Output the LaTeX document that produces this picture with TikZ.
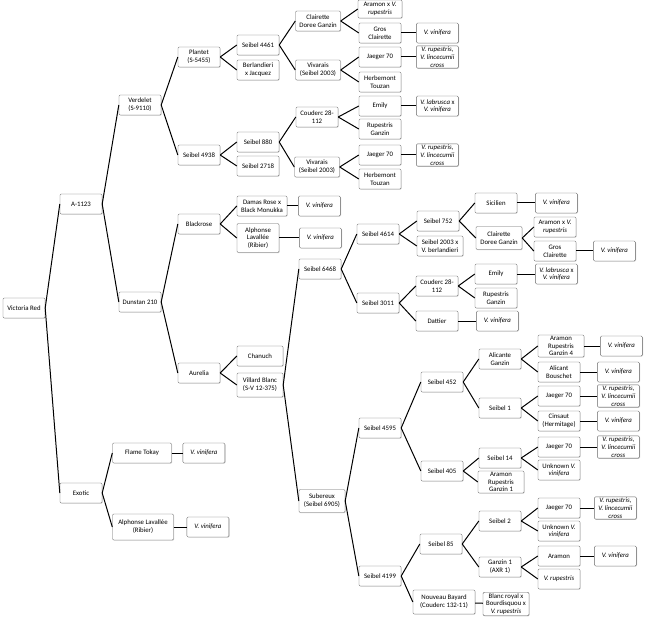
\documentclass[tikz,border=0pt]{standalone}
\usepackage{fontspec}
\newfontfamily\grapefont{Carlito}
\usepackage{tikz}
\usetikzlibrary{positioning,shadows}
\usetikzlibrary{bayesnet}
\tikzset{
  vine/.style={draw=black!60, fill=white, rounded corners=1.2pt, minimum width=42pt,
    minimum height=20pt, inner sep=1pt, align=center,
    font=\grapefont\fontsize{6.8}{7.8}\selectfont,
    drop shadow={shadow xshift=0.6pt, shadow yshift=-0.6pt, opacity=0.4}},
  wild/.style={vine, font=\grapefont\itshape\fontsize{6.8}{7.8}\selectfont},
  link/.style={-, line width=1pt},
}

\begin{document}
\begin{tikzpicture}[x=1pt,y=-1pt] %
		\useasboundingbox (0,0) rectangle (650,620) ;
		% Root and first generations
		\node[vine] (VicRed) at (24,308) {Victoria Red} ;
		\node[vine] (A1123) at (81,204) {A-1123} ;
		\node[vine] (Exotic) at (81,493) {Exotic} ;
		\node[vine] (Verdelet) at (140,105) {Verdelet\\(S-9110)} ;
		\node[vine] (Dunstan) at (140,302) {Dunstan 210} ;
		% Exotic
		\node[vine, minimum width=59pt] (FlameTokay) at (142,453) {Flame Tokay} ;
		\node[wild, right=11pt of FlameTokay] (FlameVin) {V. vinifera} ;
		\node[vine, minimum width=61pt, minimum height=26pt] (RibierEx) at (143,527) {Alphonse Lavallée\\(Ribier)} ;
		\node[wild, right=13pt of RibierEx] (RibierExVin) {V. vinifera} ;
		% Verdelet
		\node[vine] (Plantet) at (199,57) {Plantet\\(S-5455)} ;
		\node[vine] (S4938) at (199,155) {Seibel 4938} ;
		\node[vine] (S4461) at (258,45) {Seibel 4461} ;
		\node[vine] (BerlJac) at (258,70) {Berlandieri\\x Jacquez} ;
		\node[vine] (S880) at (258,142) {Seibel 880} ;
		\node[vine] (S2718) at (258,166) {Seibel 2718} ;
		\node[vine, minimum width=45pt] (ClairA) at (318,21) {Clairette\\Doree Ganzin} ;
		\node[vine, minimum width=45pt] (VivA) at (318,70) {Vivarais\\(Seibel 2003)} ;
		\node[vine] (CoudA) at (317,117) {Couderc 28-\\112} ;
		\node[vine, minimum width=45pt] (VivB) at (317,167) {Vivarais\\(Seibel 2003)} ;
		\node[vine, minimum width=44pt, minimum height=18pt] (AraRupA) at (380,9) {Aramon x \textit{V.}\\\textit{rupestris}} ;
		\node[vine] (GrosA) at (380,33) {Gros\\Clairette} ;
		\node[vine] (JaegerA) at (380,57) {Jaeger 70} ;
		\node[vine] (HerbA) at (380,82) {Herbemont\\Touzan} ;
		\node[vine] (EmilyA) at (380,106) {Emily} ;
		\node[vine] (RupGanA) at (380,129) {Rupestris\\Ganzin} ;
		\node[vine] (JaegerB) at (380,155) {Jaeger 70} ;
		\node[vine] (HerbB) at (380,179) {Herbemont\\Touzan} ;
		\node[wild, right=15pt of GrosA] (GrosAVin) {V. vinifera} ;
		\node[wild, right=15pt of JaegerA] (JaegerAx) {V. rupestris,\\V. lincecumii\\cross} ;
		\node[wild, right=15pt of EmilyA] (EmilyAx) {V. labrusca \textup{x}\\V. vinifera} ;
		\node[wild, right=15pt of JaegerB] (JaegerBx) {V. rupestris,\\V. lincecumii\\cross} ;
		% Dunstan 210
		\node[vine] (Blackrose) at (199,224) {Blackrose} ;
		\node[vine] (Aurelia) at (199,373) {Aurelia} ;
		\node[vine, minimum width=50pt] (Damas) at (262,206) {Damas Rose x\\Black Monukka} ;
		\node[wild, right=11pt of Damas] (DamasVin) {V. vinifera} ;
		\node[vine, minimum height=29pt] (RibierBR) at (258,238) {Alphonse\\Lavallée\\(Ribier)} ;
		\node[wild, right=20pt of RibierBR] (RibierBRVin) {V. vinifera} ;
		\node[vine, minimum width=46pt] (Chanuch) at (260,356) {Chanuch} ;
		\node[vine, minimum width=46pt, minimum height=24pt] (Villard) at (260,385) {Villard Blanc\\(S-V 12-375)} ;
		% Seibel 6468
		\node[vine] (S6468) at (320,269) {Seibel 6468} ;
		\node[vine] (S4614) at (378,234) {Seibel 4614} ;
		\node[vine] (S3011) at (378,303) {Seibel 3011} ;
		\node[vine] (S752) at (438,221) {Seibel 752} ;
		\node[vine, minimum width=46pt] (S2003B) at (440,246) {Seibel 2003 x\\V. berlandieri} ;
		\node[vine] (Sicilien) at (496,203) {Sicilien} ;
		\node[wild, right=18pt of Sicilien] (SicVin) {V. vinifera} ;
		\node[vine, minimum width=46pt, minimum height=23pt] (ClairB) at (499,238) {Clairette\\Doree Ganzin} ;
		\node[vine] (AraRupB) at (555,227) {Aramon x \textit{V.}\\\textit{rupestris}} ;
		\node[vine] (GrosB) at (555,251) {Gros\\Clairette} ;
		\node[wild, right=17pt of GrosB] (GrosBVin) {V. vinifera} ;
		\node[vine] (CoudB) at (437,286) {Couderc 28-\\112} ;
		\node[vine] (Dattier) at (437,321) {Dattier} ;
		\node[vine] (EmilyB) at (496,274) {Emily} ;
		\node[vine] (RupGanB) at (496,298) {Rupestris\\Ganzin} ;
		\node[wild, right=18pt of EmilyB] (EmilyBx) {V. labrusca \textup{x}\\V. vinifera} ;
		\node[wild, right=18pt of Dattier] (DattierVin) {V. vinifera} ;
		% Subereux
		\node[vine, minimum width=46pt, minimum height=23pt] (Subereux) at (322,501) {Subereux\\(Seibel 6905)} ;
		\node[vine] (S4595) at (380,428) {Seibel 4595} ;
		\node[vine] (S4199) at (380,576) {Seibel 4199} ;
		\node[vine] (S452) at (442,382) {Seibel 452} ;
		\node[vine] (S405) at (442,471) {Seibel 405} ;
		\node[vine] (Alicante) at (500,359) {Alicante\\Ganzin} ;
		\node[vine] (Seibel1) at (500,408) {Seibel 1} ;
		\node[vine] (S14) at (500,458) {Seibel 14} ;
		\node[vine, minimum width=46pt] (ARG1) at (501,482) {Aramon\\Rupestris\\Ganzin 1} ;
		\node[vine, minimum width=46pt] (ARG4) at (561,346) {Aramon\\Rupestris\\Ganzin 4} ;
		\node[vine] (AlicB) at (559,372) {Alicant\\Bouschet} ;
		\node[vine] (JaegerC) at (559,396) {Jaeger 70} ;
		\node[vine] (Cinsaut) at (559,421) {Cinsaut\\(Hermitage)} ;
		\node[vine] (JaegerD) at (559,447) {Jaeger 70} ;
		\node[vine] (UnkA) at (559,470) {Unknown \textit{V.}\\\textit{vinifera}} ;
		\node[wild, right=16pt of ARG4] (ARG4Vin) {V. vinifera} ;
		\node[wild, right=17pt of AlicB] (AlicBVin) {V. vinifera} ;
		\node[wild, right=17pt of JaegerC] (JaegerCx) {V. rupestris,\\V. lincecumii\\cross} ;
		\node[wild, right=17pt of Cinsaut] (CinsautVin) {V. vinifera} ;
		\node[wild, right=17pt of JaegerD] (JaegerDx) {V. rupestris,\\V. lincecumii\\cross} ;
		\node[vine] (S85) at (441,544) {Seibel 85} ;
		\node[vine] (Seibel2) at (500,521) {Seibel 2} ;
		\node[vine] (Ganzin1) at (500,567) {Ganzin 1\\(AXR 1)} ;
		\node[vine] (JaegerE) at (559,508) {Jaeger 70} ;
		\node[vine] (UnkB) at (559,531) {Unknown \textit{V.}\\\textit{vinifera}} ;
		\node[vine] (Aramon) at (559,556) {Aramon} ;
		\node[wild] (VRup) at (559,579) {V. rupestris} ;
		\node[wild, right=14pt of JaegerE] (JaegerEx) {V. rupestris,\\V. lincecumii\\cross} ;
		\node[wild, right=14pt of Aramon] (AramonVin) {V. vinifera} ;
		\node[vine, minimum width=62pt, minimum height=24pt] (Bayard) at (444,602) {Nouveau Bayard\\(Couderc 132-11)} ;
		\node[vine, minimum width=46pt] (BlancR) at (506,604) {Blanc royal x\\Bourdisquou x\\\textit{V. rupestris}} ;
		% Branches
		\edge [link] {VicRed.east} {A1123.west, Exotic.west} ;
		\edge [link] {A1123.east} {Verdelet.west, Dunstan.west} ;
		\edge [link] {Exotic.east} {FlameTokay.west, RibierEx.west} ;
		\edge [link] {Verdelet.east} {Plantet.west, S4938.west} ;
		\edge [link] {Dunstan.east} {Blackrose.west, Aurelia.west} ;
		\edge [link] {Plantet.east} {S4461.west, BerlJac.west} ;
		\edge [link] {S4938.east} {S880.west, S2718.west} ;
		\edge [link] {S4461.east} {ClairA.west, VivA.west} ;
		\edge [link] {S880.east} {CoudA.west, VivB.west} ;
		\edge [link] {ClairA.east} {AraRupA.west, GrosA.west} ;
		\edge [link] {VivA.east} {JaegerA.west, HerbA.west} ;
		\edge [link] {CoudA.east} {EmilyA.west, RupGanA.west} ;
		\edge [link] {VivB.east} {JaegerB.west, HerbB.west} ;
		\edge [link] {Blackrose.east} {Damas.west, RibierBR.west} ;
		\edge [link] {Aurelia.east} {Chanuch.west, Villard.west} ;
		\edge [link] {Villard.east} {S6468.west, Subereux.west} ;
		\edge [link] {S6468.east} {S4614.west, S3011.west} ;
		\edge [link] {S4614.east} {S752.west, S2003B.west} ;
		\edge [link] {S752.east} {Sicilien.west, ClairB.west} ;
		\edge [link] {ClairB.east} {AraRupB.west, GrosB.west} ;
		\edge [link] {S3011.east} {CoudB.west, Dattier.west} ;
		\edge [link] {CoudB.east} {EmilyB.west, RupGanB.west} ;
		\edge [link] {Subereux.east} {S4595.west, S4199.west} ;
		\edge [link] {S4595.east} {S452.west, S405.west} ;
		\edge [link] {S452.east} {Alicante.west, Seibel1.west} ;
		\edge [link] {Alicante.east} {ARG4.west, AlicB.west} ;
		\edge [link] {Seibel1.east} {JaegerC.west, Cinsaut.west} ;
		\edge [link] {S405.east} {S14.west, ARG1.west} ;
		\edge [link] {S14.east} {JaegerD.west, UnkA.west} ;
		\edge [link] {S4199.east} {S85.west, Bayard.west} ;
		\edge [link] {S85.east} {Seibel2.west, Ganzin1.west} ;
		\edge [link] {Seibel2.east} {JaegerE.west, UnkB.west} ;
		\edge [link] {Ganzin1.east} {Aramon.west, VRup.west} ;
		% Leaves
		\edge [link] {FlameTokay} {FlameVin} ;
		\edge [link] {RibierEx} {RibierExVin} ;
		\edge [link] {GrosA} {GrosAVin} ;
		\edge [link] {JaegerA} {JaegerAx} ;
		\edge [link] {EmilyA} {EmilyAx} ;
		\edge [link] {JaegerB} {JaegerBx} ;
		\edge [link] {Damas} {DamasVin} ;
		\edge [link] {RibierBR} {RibierBRVin} ;
		\edge [link] {Sicilien} {SicVin} ;
		\edge [link] {GrosB} {GrosBVin} ;
		\edge [link] {EmilyB} {EmilyBx} ;
		\edge [link] {Dattier} {DattierVin} ;
		\edge [link] {ARG4} {ARG4Vin} ;
		\edge [link] {AlicB} {AlicBVin} ;
		\edge [link] {JaegerC} {JaegerCx} ;
		\edge [link] {Cinsaut} {CinsautVin} ;
		\edge [link] {JaegerD} {JaegerDx} ;
		\edge [link] {JaegerE} {JaegerEx} ;
		\edge [link] {Aramon} {AramonVin} ;
		\edge [link] {Bayard} {BlancR} ;
	\end{tikzpicture}
\end{document}
